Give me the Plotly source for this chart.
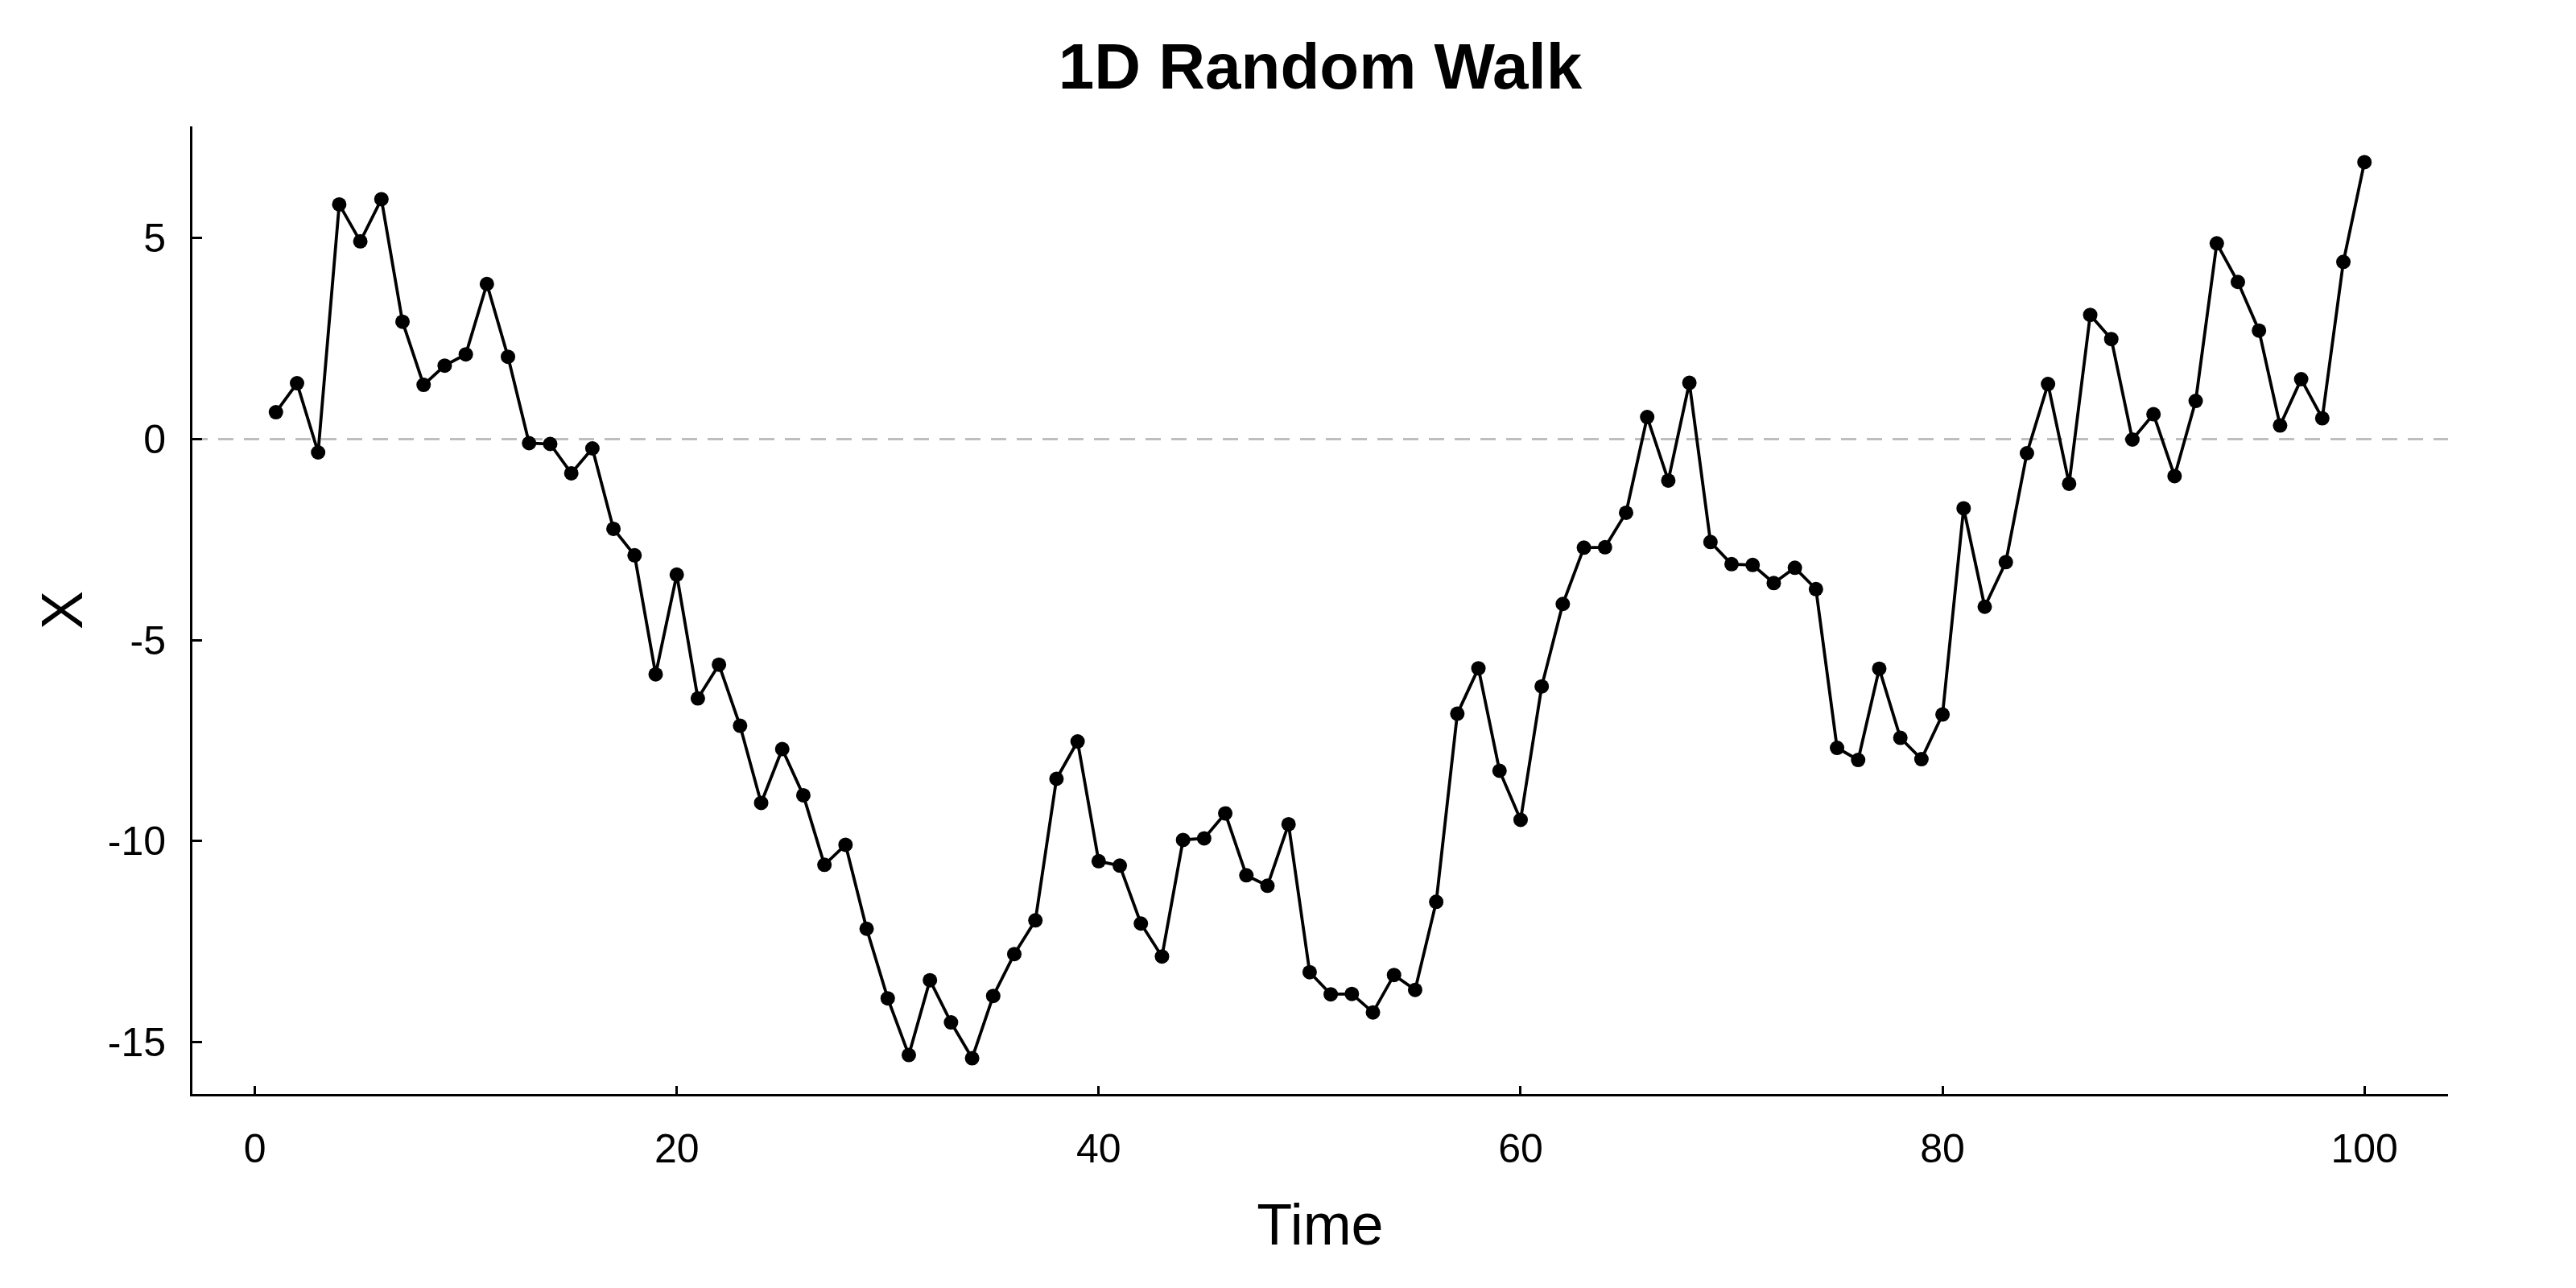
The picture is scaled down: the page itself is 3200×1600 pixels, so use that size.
import plotly.graph_objects as go

time = list(range(1, 101))
position = [
    0.67, 1.39, -0.33, 5.84, 4.92, 5.97, 2.92, 1.35, 1.83, 2.11,
    3.86, 2.05, -0.10, -0.12, -0.85, -0.23, -2.23, -2.89, -5.85, -3.37,
    -6.45, -5.61, -7.13, -9.05, -7.71, -8.86, -10.59, -10.09, -12.18, -13.91,
    -15.32, -13.46, -14.51, -15.40, -13.85, -12.81, -11.97, -8.45, -7.52, -10.50,
    -10.61, -12.05, -12.87, -9.97, -9.93, -9.31, -10.85, -11.11, -9.58, -13.26,
    -13.81, -13.80, -14.26, -13.33, -13.70, -11.51, -6.83, -5.70, -8.25, -9.47,
    -6.15, -4.10, -2.70, -2.69, -1.83, 0.55, -1.03, 1.40, -2.56, -3.11,
    -3.13, -3.58, -3.20, -3.73, -7.68, -7.98, -5.71, -7.43, -7.96, -6.85,
    -1.72, -4.17, -3.06, -0.35, 1.37, -1.11, 3.09, 2.49, -0.01, 0.62,
    -0.92, 0.95, 4.87, 3.91, 2.70, 0.34, 1.49, 0.52, 4.41, 6.89,
]
x_ticks = [0, 20, 40, 60, 80, 100]
y_ticks = [-15, -10, -5, 0, 5]
y_tick_labels = ["-15", "-10", "-5", "0", "5"]

FONT = "Liberation Sans, Arial, sans-serif"

fig = go.Figure()
fig.add_trace(go.Scatter(
    x=time, y=position, mode="lines+markers",
    line=dict(color="black", width=3.8),
    marker=dict(color="black", size=18),
    showlegend=False,
))

fig.add_shape(type="line", xref="paper", yref="y", x0=0, x1=1, y0=0, y1=0,
              line=dict(color="#BEBEBE", width=3, dash="19px,13px"), layer="below")

fig.update_layout(
    width=3200, height=1600,
    margin=dict(l=231, r=167, t=149, b=249),
    plot_bgcolor="white", paper_bgcolor="white",
    font=dict(family=FONT, color="black"),
    title=dict(text="<b>1D Random Walk</b>", xref="paper", x=0.5, xanchor="center",
               y=1 - 74 / 1600, yanchor="middle",
               font=dict(size=80, family=FONT, color="black")),
)

fig.update_xaxes(
    range=[-2.96, 103.96], tickvals=x_ticks,
    showline=True, linecolor="black", linewidth=3,
    ticks="inside", ticklen=10, tickwidth=3, tickcolor="black",
    tickfont=dict(size=50, family=FONT, color="black"),
    ticklabelstandoff=22,
    showgrid=False, zeroline=False,
    title=dict(text="Time", font=dict(size=72, family=FONT, color="black"), standoff=42),
)
fig.update_yaxes(
    range=[-16.29, 7.78], tickvals=y_ticks, ticktext=y_tick_labels,
    showline=True, linecolor="black", linewidth=3,
    ticks="inside", ticklen=12, tickwidth=3, tickcolor="black",
    tickfont=dict(size=50, family=FONT, color="black"),
    ticklabelstandoff=20,
    showgrid=False, zeroline=False,
    title=dict(text="X", font=dict(size=72, family=FONT, color="black"), standoff=8),
)

fig.write_html("out.html")
